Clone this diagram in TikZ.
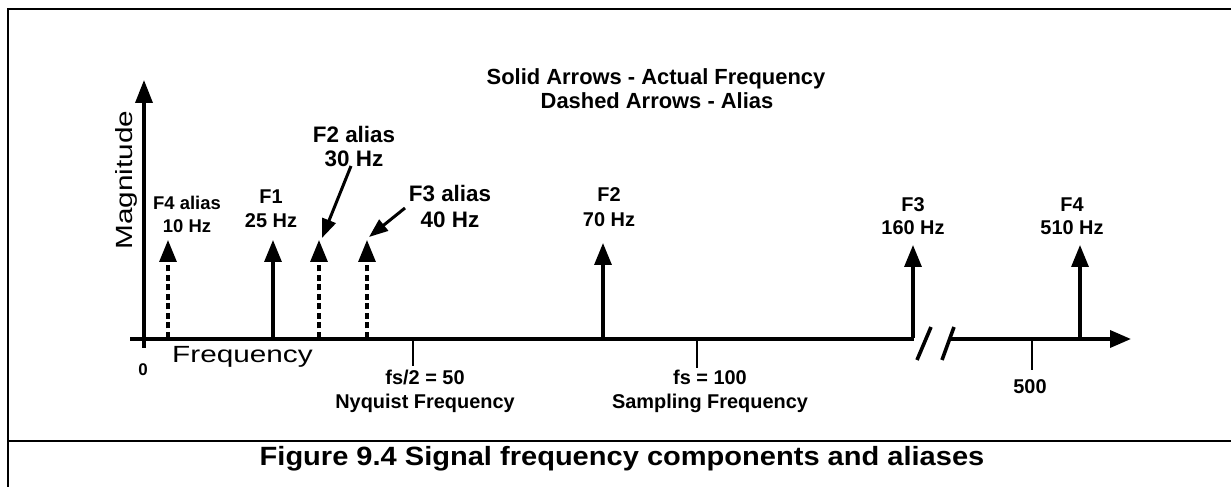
\documentclass[tikz,border=0pt]{standalone}
\usepackage{graphicx}
\usepackage{fontspec}
\setmainfont{Liberation Sans}
\usetikzlibrary{arrows.meta}
\begin{document}
\begin{tikzpicture}[x=1bp,y=-1bp,
  frame/.style={line width=2bp},
  axisline/.style={line width=3.6bp},
  spike/.style={line width=3.2bp,-{Triangle[length=22bp,width=17bp]}},
  aliasspike/.style={spike,dash pattern=on 6bp off 3.5bp},
  callout/.style={line width=3bp,-{Triangle[length=19bp,width=14bp]}},
  tickline/.style={line width=2.8bp},
  lbl/.style={inner sep=0,anchor=base,font=\bfseries\fontsize{20}{24}\selectfont},
  lblsmall/.style={lbl,font=\bfseries\fontsize{18.5}{22}\selectfont},
  lblbig/.style={lbl,font=\bfseries\fontsize{22.5}{26}\selectfont}]
\useasboundingbox (0,0) rectangle (1231,487);
% frame
\coordinate (ftl) at (7.5,9.5);
\coordinate (ftr) at (1231,9.5);
\coordinate (fbl) at (7.5,487);
\coordinate (fsl) at (7.5,440.5);
\coordinate (fsr) at (1231,440.5);
\draw[frame] (ftr) -- (ftl) -- (fbl);
\draw[frame] (fsl) -- (fsr);
% axes
\coordinate (vb) at (144,348);
\coordinate (vt) at (144,80);
\draw[axisline,-{Triangle[length=23bp,width=17bp]}] (vb) -- (vt);
\coordinate (hl) at (130,339);
\coordinate (hbreak1) at (914,339);
\coordinate (hbreak2) at (950,339);
\coordinate (hr) at (1131,339);
\draw[axisline] (hl) -- (hbreak1);
\draw[axisline,-{Triangle[length=21bp,width=17bp]}] (hbreak2) -- (hr);
\coordinate (bk1a) at (917,360); \coordinate (bk1b) at (931,327);
\coordinate (bk2a) at (942,360); \coordinate (bk2b) at (954,327);
\draw[axisline] (bk1a) -- (bk1b);
\draw[axisline] (bk2a) -- (bk2b);
% ticks
\coordinate (t1a) at (413,339); \coordinate (t1b) at (413,366);
\coordinate (t2a) at (697,339); \coordinate (t2b) at (697,368);
\coordinate (t3a) at (1032,339); \coordinate (t3b) at (1032,370);
\draw[tickline] (t1a) -- (t1b);
\draw[tickline] (t2a) -- (t2b);
\draw[tickline] (t3a) -- (t3b);
% spikes
\coordinate (s1b) at (168,338); \coordinate (s1t) at (168,240);
\coordinate (s2b) at (273,338); \coordinate (s2t) at (273,240);
\coordinate (s3b) at (319,338); \coordinate (s3t) at (319,240);
\coordinate (s4b) at (367,338); \coordinate (s4t) at (367,240);
\coordinate (s5b) at (603,338); \coordinate (s5t) at (603,243);
\coordinate (s6b) at (913,338); \coordinate (s6t) at (913,245);
\coordinate (s7b) at (1080,338); \coordinate (s7t) at (1080,245);
\draw[aliasspike] (s1b) -- (s1t);
\draw[spike] (s2b) -- (s2t);
\draw[aliasspike] (s3b) -- (s3t);
\draw[aliasspike] (s4b) -- (s4t);
\draw[spike] (s5b) -- (s5t);
\draw[spike] (s6b) -- (s6t);
\draw[spike] (s7b) -- (s7t);
% labels
\node[lblsmall] (f4aa) at (187,210) {F4 alias};
\node[lblsmall] (f4ab) at (187,233) {10 Hz};
\node[lbl] (f1a) at (271,204) {F1};
\node[lbl] (f1b) at (271,228) {25 Hz};
\node[lblbig] (f2aa) at (354,143) {F2 alias};
\node[lblbig] (f2ab) at (354,167) {30 Hz};
\node[lblbig] (f3aa) at (450,202) {F3 alias};
\node[lblbig] (f3ab) at (450,228) {40 Hz};
\node[lbl] (f2a) at (609,202) {F2};
\node[lbl] (f2b) at (609,227) {70 Hz};
\node[lbl] (f3a) at (913,212) {F3};
\node[lbl] (f3b) at (913,235) {160 Hz};
\node[lbl] (f4a) at (1072,212) {F4};
\node[lbl] (f4b) at (1072,235) {510 Hz};
% callouts
\coordinate (c1s) at (351,166); \coordinate (c1e) at (322,238);
\coordinate (c2s) at (405,208); \coordinate (c2e) at (369,237);
\draw[callout] (c1s) -- (c1e);
\draw[callout] (c2s) -- (c2e);
% title
\node[lblbig,font=\bfseries\fontsize{22}{26}\selectfont] (ttl1) at (656,85) {Solid Arrows - Actual Frequency};
\node[lblbig,font=\bfseries\fontsize{22}{26}\selectfont] (ttl2) at (657,109) {Dashed Arrows - Alias};
% axis labels
\node[lbl,font=\bfseries\fontsize{17}{20}\selectfont] (zero) at (143,376) {0};
\node[inner sep=0,anchor=base west,font=\fontsize{23.5}{28}\selectfont] (freq) at (172,363) {\scalebox{1.27}[1]{Frequency}};
\node[inner sep=0,anchor=base,rotate=90,font=\fontsize{23.5}{28}\selectfont] (mag) at (132,180) {\scalebox{1.27}[1]{Magnitude}};
\node[lbl] (ny1) at (425,385) {fs/2 = 50};
\node[lbl] (ny2) at (425,408) {Nyquist Frequency};
\node[lbl] (sf1) at (710,385) {fs = 100};
\node[lbl] (sf2) at (710,408) {Sampling Frequency};
\node[lbl] (five) at (1030,393) {500};
% caption
\node[lbl,font=\bfseries\fontsize{26.5}{30}\selectfont] (cap) at (622,465) {\scalebox{1.1}[1]{Figure 9.4 Signal frequency components and aliases}};
\end{tikzpicture}
\end{document}
